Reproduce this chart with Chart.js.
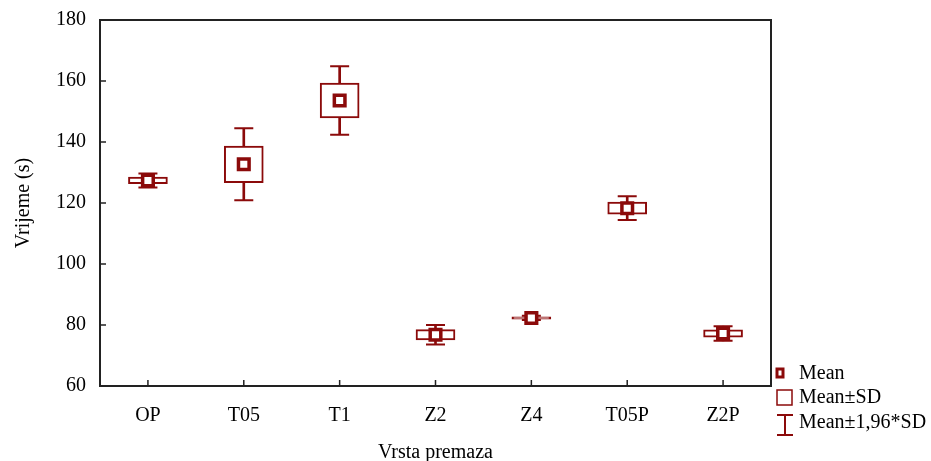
<!DOCTYPE html>
<html>
<head>
<meta charset="utf-8">
<script src="https://cdn.jsdelivr.net/npm/chart.js@4/dist/chart.umd.min.js"></script>
<style>
  body { margin: 0; background: #fff; }
  #wrap { width: 931px; height: 461px; position: relative; }
</style>
</head>
<body>
<div id="wrap"><canvas id="boxChart"></canvas></div>
<script>
// values
let categories = ["OP", "T05", "T1", "Z2", "Z4", "T05P", "Z2P"];
let means = [127.4, 132.7, 153.6, 76.8, 82.3, 118.3, 77.2];
let sds = [1.1, 6.0, 5.7, 1.7, 0.35, 2.0, 1.2];
let whisk = [2.3, 11.8, 11.2, 3.2, 0.7, 3.9, 2.4];   // 1,96*SD half widths
let yTicks = [60, 80, 100, 120, 140, 160, 180];

let red = "#8b0a0a";
let fontFam = "'Liberation Serif', 'Times New Roman', serif";

let sdBox = means.map((m, i) => [m - sds[i], m + sds[i]]);
let whiskLine = means.map((m, i) => [m - whisk[i], m + whisk[i]]);
let whiskTop = means.map((m, i) => m + whisk[i]);
let whiskBot = means.map((m, i) => m - whisk[i]);

// frame, inward ticks and the legend
let framePlugin = {
    id: "frame",
    afterDraw(chart) {
        let ctx = chart.ctx;
        let a = chart.chartArea;
        let xs = chart.scales.x, ys = chart.scales.y;
        ctx.save();
        ctx.strokeStyle = "#222";
        ctx.lineWidth = 2;
        ctx.strokeRect(a.left, a.top, a.right - a.left, a.bottom - a.top);
        ctx.lineWidth = 1.5;
        ctx.beginPath();
        yTicks.forEach(v => {
            let py = ys.getPixelForValue(v);
            ctx.moveTo(a.left, py);
            ctx.lineTo(a.left + 6, py);
        });
        categories.forEach((c, i) => {
            let px = xs.getPixelForValue(i);
            ctx.moveTo(px, a.bottom);
            ctx.lineTo(px, a.bottom - 6);
        });
        ctx.stroke();

        // legend
        let lx = a.right + 4;
        ctx.strokeStyle = red;
        ctx.lineWidth = 3;
        ctx.strokeRect(lx + 2, 369, 6, 8);
        ctx.lineWidth = 1.5;
        ctx.strokeRect(lx + 2, 390, 15, 15);
        ctx.lineWidth = 2;
        ctx.beginPath();
        ctx.moveTo(lx + 2, 415); ctx.lineTo(lx + 18, 415);
        ctx.moveTo(lx + 10, 415); ctx.lineTo(lx + 10, 435);
        ctx.moveTo(lx + 2, 435); ctx.lineTo(lx + 18, 435);
        ctx.stroke();
        ctx.fillStyle = "#000";
        ctx.font = "20px " + fontFam;
        ctx.textBaseline = "middle";
        ctx.textAlign = "left";
        ctx.fillText("Mean", lx + 24, 374);
        ctx.fillText("Mean±SD", lx + 24, 398);
        ctx.fillText("Mean±1,96*SD", lx + 24, 423);
        ctx.restore();
    }
};

let ctx = document.getElementById("boxChart").getContext("2d");
new Chart(ctx, {
    type: "bar",
    data: {
        labels: categories,
        datasets: [
            {
                label: "whisker",
                data: whiskLine,
                backgroundColor: red,
                borderWidth: 0,
                barThickness: 2,
                grouped: false,
                order: 4
            },
            {
                label: "Mean±SD",
                data: sdBox,
                backgroundColor: "#fff",
                borderColor: red,
                borderWidth: 2,
                borderSkipped: false,
                barThickness: 39,
                grouped: false,
                order: 3
            },
            {
                type: "line",
                label: "capTop",
                data: whiskTop,
                showLine: false,
                pointStyle: "line",
                pointRadius: 9.5,
                borderColor: red,
                pointBorderWidth: 2,
                order: 2
            },
            {
                type: "line",
                label: "capBot",
                data: whiskBot,
                showLine: false,
                pointStyle: "line",
                pointRadius: 9.5,
                borderColor: red,
                pointBorderWidth: 2,
                order: 2
            },
            {
                type: "line",
                label: "Mean",
                data: means,
                showLine: false,
                pointStyle: "rect",
                pointRadius: 7.5,
                pointBackgroundColor: "#fff",
                pointBorderColor: red,
                pointBorderWidth: 3.5,
                order: 1
            }
        ]
    },
    options: {
        responsive: true,
        maintainAspectRatio: false,
        animation: false,
        layout: { padding: { top: 20, right: 160, bottom: 0, left: 0 } },
        plugins: {
            legend: { display: false },
            tooltip: { enabled: false }
        },
        scales: {
            x: {
                offset: true,
                grid: { display: false },
                border: { display: false },
                ticks: { color: "#000", font: { family: fontFam, size: 20 }, padding: 10 },
                title: {
                    display: true,
                    text: "Vrsta premaza",
                    color: "#000",
                    font: { family: fontFam, size: 20 },
                    padding: { top: 0, bottom: -4 }
                },
                afterFit(scale) { scale.height = 75; }
            },
            y: {
                min: 60,
                max: 180,
                grid: { display: false },
                border: { display: false },
                ticks: {
                    stepSize: 20,
                    color: "#000",
                    font: { family: fontFam, size: 20 },
                    padding: 6
                },
                title: {
                    display: true,
                    text: "Vrijeme (s)",
                    color: "#000",
                    font: { family: fontFam, size: 20 },
                    padding: { top: 12, bottom: 0 }
                },
                afterFit(scale) { scale.width = 100; }
            }
        }
    },
    plugins: [framePlugin]
});
</script>
</body>
</html>
